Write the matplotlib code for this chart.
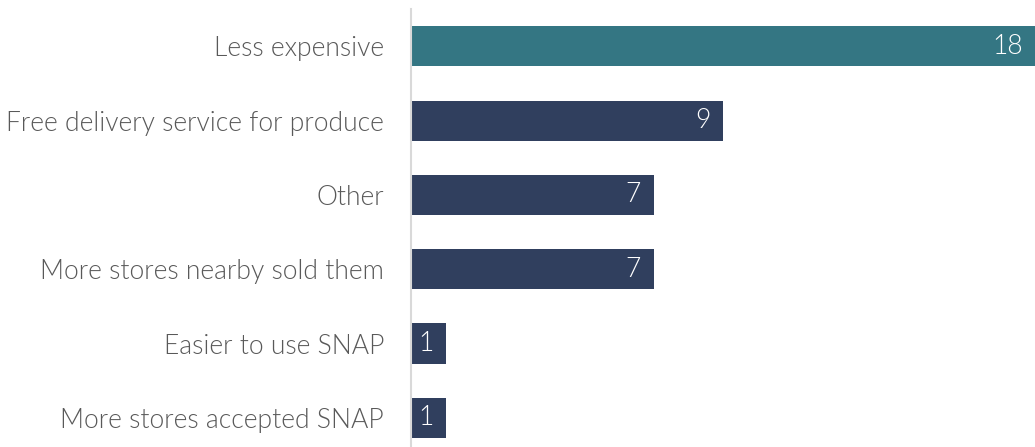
import matplotlib.pyplot as plt

categories = ["Less expensive", "Free delivery service for produce", "Other",
              "More stores nearby sold them", "Easier to use SNAP", "More stores accepted SNAP"]
values = [18, 9, 7, 7, 1, 1]
colors = ["#347683", "#303f5e", "#303f5e", "#303f5e", "#303f5e", "#303f5e"]

W, H = 1035, 447
fig = plt.figure(figsize=(W / 100, H / 100), dpi=100)
ax = fig.add_axes([411 / W, -8 / H, 1 - 411 / W, 445.8 / H])

y = list(range(len(categories)))
ax.barh(y, values, height=0.54, color=colors)
ax.set_ylim(len(categories) - 0.5, -0.5)
ax.set_xlim(0, 18)

for yi, v in zip(y, values):
    ax.annotate(str(v), (v, yi), xytext=(-9, 0), textcoords="offset points",
                ha="right", va="center", color="white",
                fontsize=19.1, family="Lato", fontweight=300)

ax.set_yticks(y)
ax.set_yticklabels(categories, fontsize=19.1, family="Lato", fontweight=300, color="#595959")
ax.tick_params(axis="y", length=0, pad=19.5)
ax.set_xticks([])
for s in ["top", "right", "bottom"]:
    ax.spines[s].set_visible(False)
ax.spines["left"].set_color("#d9d9d9")
ax.spines["left"].set_linewidth(1.5)

fig.savefig("out.png", dpi=100)
